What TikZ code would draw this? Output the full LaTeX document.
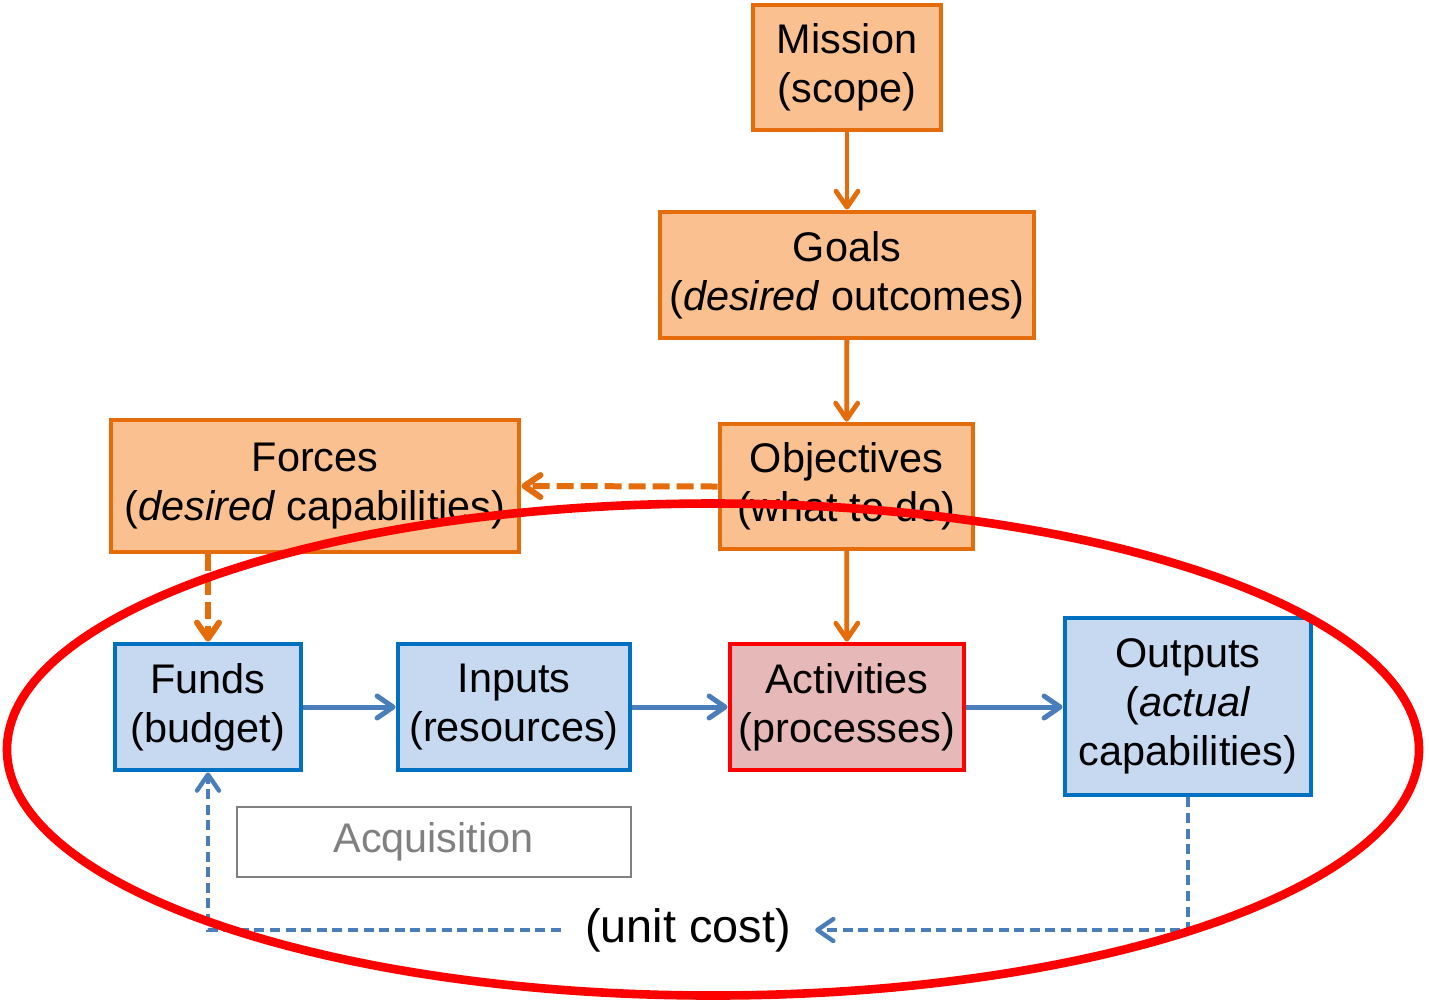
\documentclass[tikz,border=0pt]{standalone}
\usepackage{fontspec}
\setmainfont{Liberation Sans}
\usetikzlibrary{arrows.meta}
\definecolor{plorange}{HTML}{E46C0A}
\definecolor{plpeach}{HTML}{FAC090}
\definecolor{exblue}{HTML}{0070C0}
\definecolor{exfill}{HTML}{C6D9F1}
\definecolor{flowblue}{HTML}{4A7EBB}
\definecolor{actfill}{HTML}{E6B9B8}
\definecolor{ringred}{HTML}{FF0000}
\definecolor{mutedgray}{HTML}{808080}
\tikzset{
  tip/.style={-{Straight Barb[length=8pt,width=11pt,line cap=round,line join=round]}},
  box/.style={rectangle, inner sep=0pt, align=center, line width=2.4pt,
    font=\fontsize{20.7}{24.5}\selectfont},
  planbox/.style={box, draw=plorange, fill=plpeach},
  execbox/.style={box, draw=exblue, fill=exfill},
  actbox/.style={box, draw=ringred, fill=actfill},
  planlink/.style={tip, draw=plorange, line width=2.4pt, line cap=round},
  plandash/.style={planlink, line width=3pt, line cap=butt, dash pattern=on 8.5pt off 3.5pt},
  flowlink/.style={tip, draw=flowblue, line width=2.5pt},
  feedback/.style={draw=flowblue, line width=2.2pt, dash pattern=on 5pt off 2.8pt},
}
\begin{document}
\begin{tikzpicture}[x=0.5pt,y=-0.5pt]
\useasboundingbox (0,0) rectangle (1429,1003);

% planning chain
\node[planbox, minimum width=94pt, minimum height=62.5pt] (mission) at (847,67.5) {Mission\\(scope)};
\node[planbox, minimum width=187pt, minimum height=63pt] (goals) at (847,275) {Goals\\(\textit{desired} outcomes)};
\node[planbox, minimum width=126.5pt, minimum height=62.5pt] (objectives) at (846.5,486.5) {Objectives\\(what to do)};
\node[planbox, minimum width=204pt, minimum height=66pt] (forces) at (315,486) {Forces\\(\textit{desired} capabilities)};

% execution chain
\node[execbox, minimum width=93pt, minimum height=63pt] (funds) at (208,707) {Funds\\(budget)};
\node[execbox, minimum width=116pt, minimum height=63pt] (inputs) at (514,707) {Inputs\\(resources)};
\node[actbox, minimum width=117pt, minimum height=63pt] (activities) at (847,707) {Activities\\(processes)};
\node[execbox, minimum width=123pt, minimum height=88.5pt] (outputs) at (1188,706.5) {Outputs\\(\textit{actual}\\capabilities)};

\node[box, draw=mutedgray, line width=1pt, text=mutedgray, minimum width=197pt, minimum height=35pt] (acq) at (433.5,842) {Acquisition};
\node[font=\fontsize{23.4}{28}\selectfont, inner xsep=12pt, inner ysep=2pt] (cost) at (688,930) {(unit cost)};

% planning links
\draw[planlink] (mission) -- (goals);
\draw[planlink] (goals) -- (objectives);
\draw[planlink] (objectives) -- (activities);
\draw[plandash] (objectives.west) -- (forces.east);
\draw[plandash] (funds.north |- forces.south) -- (funds.north);

% execution flow
\draw[flowlink] (funds) -- (inputs);
\draw[flowlink] (inputs) -- (activities);
\draw[flowlink] (activities.east) -- (activities.east -| outputs.west);

% unit cost feedback
\draw[feedback, tip] (outputs.south) -- (outputs.south |- cost) -- (cost.east);
\draw[feedback, tip] (cost.west) -- (funds.south |- cost) -- (funds.south);

% scope ring
\draw[ringred, line width=4.3pt] (713,749.5) ellipse [x radius=706, y radius=246];
\end{tikzpicture}
\end{document}
